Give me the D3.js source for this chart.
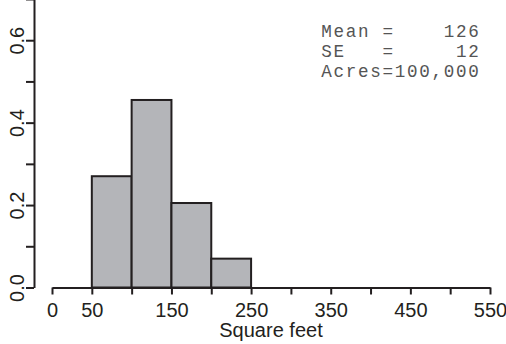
<!DOCTYPE html>
<html>
<head>
<meta charset="utf-8">
<script src="https://cdn.jsdelivr.net/npm/d3@7"></script>
<style>
  body { margin: 0; background: #fff; }
  svg { display: block; }
</style>
</head>
<body>
<svg id="chart" width="506" height="344"></svg>
<script>
// histogram bins (square feet) and share of acres
const binStarts = [50, 100, 150, 200];
const binWidth = 50;
const shares = [0.27, 0.455, 0.205, 0.07];

const xTicks = [0, 50, 100, 150, 200, 250, 300, 350, 400, 450, 500, 550];
const xLabels = [0, 50, 150, 250, 350, 450, 550];
const yTicks = [0, 0.1, 0.2, 0.3, 0.4, 0.5, 0.6, 0.7];
const yLabels = [0, 0.2, 0.4, 0.6];

const statLines = ["Mean =    126", "SE   =     12", "Acres=100,000"];
const xTitle = "Square feet";

const svg = d3.select("#chart");
const ink = "#231f20";

const x = d3.scaleLinear().domain([0, 550]).range([52, 490]);
const y = d3.scaleLinear().domain([0, 0.7]).range([287.5, -1]);

// bars
svg.append("g")
  .selectAll("rect")
  .data(binStarts)
  .join("rect")
  .attr("x", d => x(d))
  .attr("y", (d, i) => y(shares[i]))
  .attr("width", d => x(d + binWidth) - x(d))
  .attr("height", (d, i) => y(0) - y(shares[i]))
  .attr("fill", "#b4b5b9")
  .attr("stroke", ink)
  .attr("stroke-width", 2);

// x axis
const xAxis = svg.append("g")
  .attr("transform", `translate(0,${y(0)})`)
  .call(d3.axisBottom(x)
    .tickValues(xTicks)
    .tickSize(7)
    .tickSizeOuter(0)
    .tickPadding(8)
    .tickFormat(d => xLabels.includes(d) ? d : ""));

// y axis
const yAxis = svg.append("g")
  .attr("transform", "translate(34,0)")
  .call(d3.axisLeft(y)
    .tickValues(yTicks)
    .tickSize(8)
    .tickSizeOuter(0)
    .tickFormat(d => yLabels.some(v => Math.abs(v - d) < 1e-9) ? d3.format(".1f")(d) : ""));

yAxis.selectAll("text")
  .attr("x", null)
  .attr("dy", null)
  .attr("text-anchor", "middle")
  .attr("transform", "translate(-10,0) rotate(-90)");

[xAxis, yAxis].forEach(g => {
  g.selectAll("path, line").attr("stroke", ink).attr("stroke-width", 2);
  g.selectAll("text")
    .attr("fill", ink)
    .style("font-family", "'Liberation Sans', Arial, sans-serif")
    .style("font-size", "20px");
});

// x title
svg.append("text")
  .attr("x", x(275))
  .attr("y", 337)
  .attr("text-anchor", "middle")
  .attr("fill", ink)
  .style("font-family", "'Liberation Sans', Arial, sans-serif")
  .style("font-size", "20px")
  .text(xTitle);

// stats box (monospace, spaced out to the reference's column width)
svg.append("g")
  .selectAll("text")
  .data(statLines)
  .join("text")
  .attr("x", 480.5)
  .attr("y", (d, i) => 37 + i * 20)
  .attr("text-anchor", "end")
  .attr("xml:space", "preserve")
  .attr("fill", "#555")
  .style("white-space", "pre")
  .style("font-family", "'Liberation Mono', 'Courier New', monospace")
  .style("font-size", "17.6px")
  .style("letter-spacing", "1.7px")
  .text(d => d);
</script>
</body>
</html>
